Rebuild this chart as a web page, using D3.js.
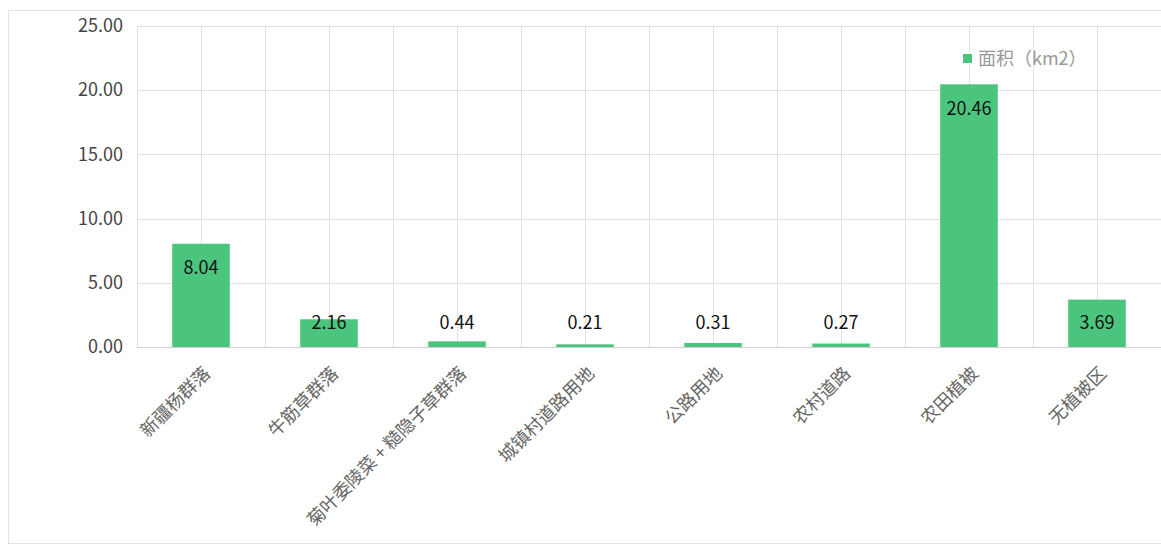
<!DOCTYPE html>
<html lang="zh">
<head>
	<meta charset="UTF-8">
	<title>面积柱形图</title>
	<style>
		body{ margin:0; background:#fff; }
		text{ font-family: "Noto Sans CJK SC", "Noto Sans", sans-serif; }
	</style>
</head>
<body>
	<script src="https://d3js.org/d3.v7.min.js"></script>
	<script>
		var width = 1161;
		var height = 546;
		var categories = ['新疆杨群落','牛筋草群落','菊叶委陵菜 + 糙隐子草群落','城镇村道路用地','公路用地','农村道路','农田植被','无植被区'];
		var values = [8.04, 2.16, 0.44, 0.21, 0.31, 0.27, 20.46, 3.69];  // 面积 (km2)
		var yTicks = [0, 5, 10, 15, 20, 25];
		var seriesName = '面积（km2）';

		// 注意：不能用 top 做变量名（window.top 只读）
		var plotLeft = 137, plotRight = 1161, plotTop = 26, plotBottom = 347;
		var fontSize = 18;

		var x = d3.scaleBand().domain(categories).range([plotLeft, plotRight]);
		var y = d3.scaleLinear().domain([0, 25]).range([plotBottom, plotTop]);

		var svg = d3.select('body')
					.append('svg')
					.attr('width', width)
					.attr('height', height);

		// 外框
		svg.append('rect')
			.attr('x', 8.5).attr('y', 10.5)
			.attr('width', 1170).attr('height', 533)
			.attr('fill', 'none')
			.attr('stroke', '#e2e2e2');

		// 横向网格
		svg.append('g')
			.selectAll('line')
			.data(yTicks)
			.enter()
			.append('line')
			.attr('x1', plotLeft).attr('x2', plotRight)
			.attr('y1', function(d){ return Math.round(y(d)) + 0.5; })
			.attr('y2', function(d){ return Math.round(y(d)) + 0.5; })
			.attr('stroke', function(d){ return d === 0 ? '#cfcfcf' : '#e0e0e0'; });

		// 纵向网格（类目边界和中点）
		var vx = [];
		categories.forEach(function(c){
			vx.push(x(c));
			vx.push(x(c) + x.bandwidth() / 2);
		});
		svg.append('g')
			.selectAll('line')
			.data(vx)
			.enter()
			.append('line')
			.attr('x1', function(d){ return Math.round(d) + 0.5; })
			.attr('x2', function(d){ return Math.round(d) + 0.5; })
			.attr('y1', plotTop).attr('y2', plotBottom)
			.attr('stroke', '#e0e0e0');

		// y轴
		var yAxis = d3.axisLeft(y).tickValues(yTicks).tickSize(0).tickPadding(14)
			.tickFormat(d3.format('.2f'));
		var gy = svg.append('g').attr('transform', 'translate(' + plotLeft + ',0)').call(yAxis);
		gy.select('.domain').remove();
		gy.selectAll('text').attr('font-size', fontSize).attr('fill', '#444');

		// 柱子
		var barW = x.bandwidth() * 0.45;
		svg.append('g')
			.selectAll('rect')
			.data(values)
			.enter()
			.append('rect')
			.attr('x', function(d, i){ return x(categories[i]) + (x.bandwidth() - barW) / 2; })
			.attr('y', function(d){ return y(d); })
			.attr('width', barW)
			.attr('height', function(d){ return y(0) - y(d); })
			.attr('fill', '#4bc47e');

		// 数值标签
		svg.append('g')
			.selectAll('text')
			.data(values)
			.enter()
			.append('text')
			.attr('x', function(d, i){ return x(categories[i]) + x.bandwidth() / 2; })
			.attr('y', function(d){ return Math.min(y(d) + 24, y(0) - 24); })
			.attr('dy', '0.35em')
			.attr('text-anchor', 'middle')
			.attr('font-size', fontSize)
			.attr('fill', '#111')
			.text(function(d){ return d.toFixed(2); });

		// x轴标签
		var xAxis = d3.axisBottom(x).tickSize(0).tickPadding(0);
		var gx = svg.append('g').attr('transform', 'translate(0,' + plotBottom + ')').call(xAxis);
		gx.select('.domain').remove();
		gx.selectAll('text')
			.attr('font-size', fontSize)
			.attr('fill', '#666')
			.attr('text-anchor', 'end')
			.attr('dy', '0.35em')
			.attr('transform', 'translate(6,23) rotate(-45)');

		// 图例
		var lg = svg.append('g').attr('transform', 'translate(963,54)');
		lg.append('rect').attr('width', 9).attr('height', 9).attr('fill', '#4bc47e');
		lg.append('text').attr('x', 15).attr('y', 5).attr('dy', '0.35em')
			.attr('font-size', fontSize).attr('fill', '#999').text(seriesName);
	</script>
</body>
</html>
